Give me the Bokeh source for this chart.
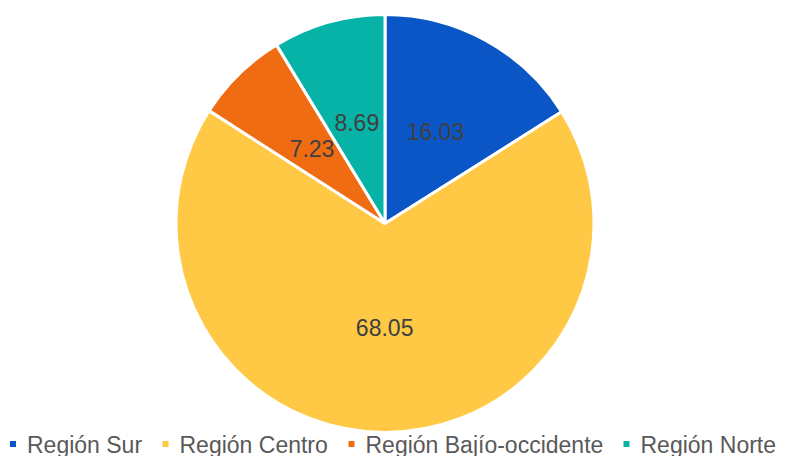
import numpy as np
from bokeh.plotting import figure
from bokeh.models import Range1d, ColumnDataSource
from bokeh.embed import file_html
from bokeh.resources import INLINE
from bokeh.core.properties import value

# ---- data ----
regions = ["Región Sur", "Región Centro", "Región Bajío-occidente", "Región Norte"]
shares = [16.03, 68.05, 7.23, 8.69]
labels = ["16.03", "68.05", "7.23", "8.69"]
colors = ["#0B56C6", "#FFC845", "#F06C13", "#06B3A6"]

# ---- layout (screen pixels inside the figure; y measured from the top) ----
W, H = 778, 456
cx, cy_top, R = 384.5, 223.0, 209.0
cy = H - cy_top
FONT = "Liberation Sans"

p = figure(width=W, height=H, x_range=Range1d(0, W), y_range=Range1d(0, H),
           output_backend="svg", toolbar_location=None, min_border=0,
           x_axis_type=None, y_axis_type=None, outline_line_color=None,
           background_fill_color="white", border_fill_color="white")
p.grid.visible = False

vals = np.array(shares, dtype=float)
frac = vals / vals.sum()
cum = np.concatenate([[0.0], np.cumsum(frac)])
start = np.pi / 2 - 2 * np.pi * cum[:-1]
end = np.pi / 2 - 2 * np.pi * cum[1:]
mid = (start + end) / 2

src = ColumnDataSource(dict(start=start, end=end, color=colors))
p.wedge(x=cx, y=cy, radius=R, start_angle="start", end_angle="end",
        direction="clock", fill_color="color", line_color="white",
        line_width=3, source=src)

lab = ColumnDataSource(dict(x=cx + 0.5 * R * np.cos(mid),
                            y=cy + 0.5 * R * np.sin(mid), t=labels))
p.text(x="x", y="y", text="t", source=lab, text_align="center",
       text_baseline="middle", text_font=value(FONT),
       text_font_size="23px", text_color="#404040")

# legend (manual)
sq_x = np.array([12.5, 165.0, 351.0, 626.0])
txt_x = sq_x + 14
leg_y = H - 444
p.rect(x=sq_x, y=leg_y + 0.5, width=6, height=6, fill_color=colors, line_color=None)
p.text(x=txt_x, y=leg_y, text=regions, text_align="left",
       text_baseline="middle", text_font=value(FONT),
       text_font_size="23px", text_color="#595959")

open("out.html", "w").write(file_html(p, INLINE))
